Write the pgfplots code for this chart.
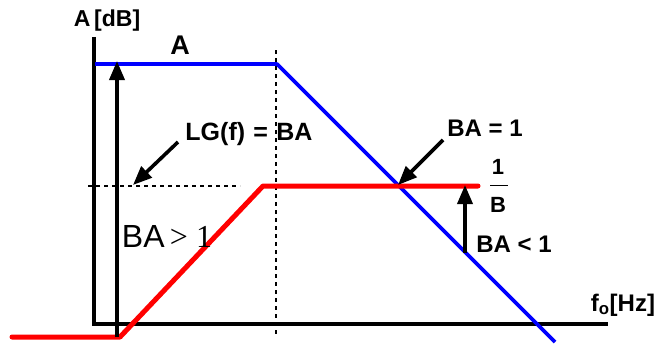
\documentclass[border=0pt]{standalone}
\usepackage{fontspec}
\setmainfont{Liberation Sans}
\newfontfamily\seriffont{Liberation Serif}
\usepackage{pgfplots}
\pgfplotsset{compat=1.18}
\usetikzlibrary{arrows.meta}
\begin{document}
\begin{tikzpicture}
\begin{axis}[x=1pt,y=1pt,xmin=0,xmax=671,ymin=0,ymax=342,hide axis,clip=false,scale only axis]
\path (axis cs:0,0) rectangle (axis cs:671,342);
% axes
\addplot[black,line width=3.6pt] coordinates {(94,305) (94,18) (608,18)};
% dashed guides
\addplot[black,line width=2pt,dash pattern=on 4pt off 4pt] coordinates {(88,156) (240,156)};
\addplot[black,line width=2pt,dash pattern=on 4pt off 4pt] coordinates {(276,292) (276,7)};
% A (blue)
\addplot[blue,line width=3.6pt,line join=round] coordinates {(95,278) (277,278) (555,0)};
% 1/B (red)
\addplot[red,line width=5pt,line join=round,line cap=round] coordinates {(12,5) (120,5) (263,156) (478,156)};
% arrows
\addplot[black,line width=3.6pt,-{Triangle[length=19pt,width=15pt]}] coordinates {(117,5) (117,281)};
\addplot[black,line width=3.6pt,-{Triangle[length=19pt,width=15pt]}] coordinates {(465,89) (465,157)};
\addplot[black,line width=3.6pt,-{Triangle[length=19pt,width=15pt]}] coordinates {(178,200) (133,157)};
\addplot[black,line width=3.6pt,-{Triangle[length=19pt,width=15pt]}] coordinates {(443,202) (398,157)};
% labels
\node[inner sep=0,font=\bfseries\fontsize{23}{26}\selectfont] at (axis cs:107,321) {A\,[dB]};
\node[inner sep=0,font=\bfseries\fontsize{27}{30}\selectfont] at (axis cs:180,297) {A};
\node[inner sep=0,font=\bfseries\fontsize{25}{28}\selectfont] at (axis cs:249,208) {LG(f)\,\,=\,\,BA};
\node[inner sep=0,font=\bfseries\fontsize{24}{27}\selectfont] at (axis cs:485,214) {BA = 1};
\node[inner sep=0,font=\bfseries\fontsize{22}{24}\selectfont] at (axis cs:498,175) {1};
\node[inner sep=0,font=\bfseries\fontsize{22}{24}\selectfont] at (axis cs:498,137) {B};
\draw[black,line width=1pt] (axis cs:490,157) -- (axis cs:508,157);
\node[inner sep=0,font=\fontsize{32}{36}\selectfont] at (axis cs:167,106) {BA\,{\seriffont > 1}};
\node[inner sep=0,font=\bfseries\fontsize{24}{27}\selectfont] at (axis cs:514,98) {BA < 1};
\node[inner sep=0,font=\bfseries\fontsize{24}{27}\selectfont] at (axis cs:623,37) {f\textsubscript{o}[Hz]};
\end{axis}
\end{tikzpicture}
\end{document}
